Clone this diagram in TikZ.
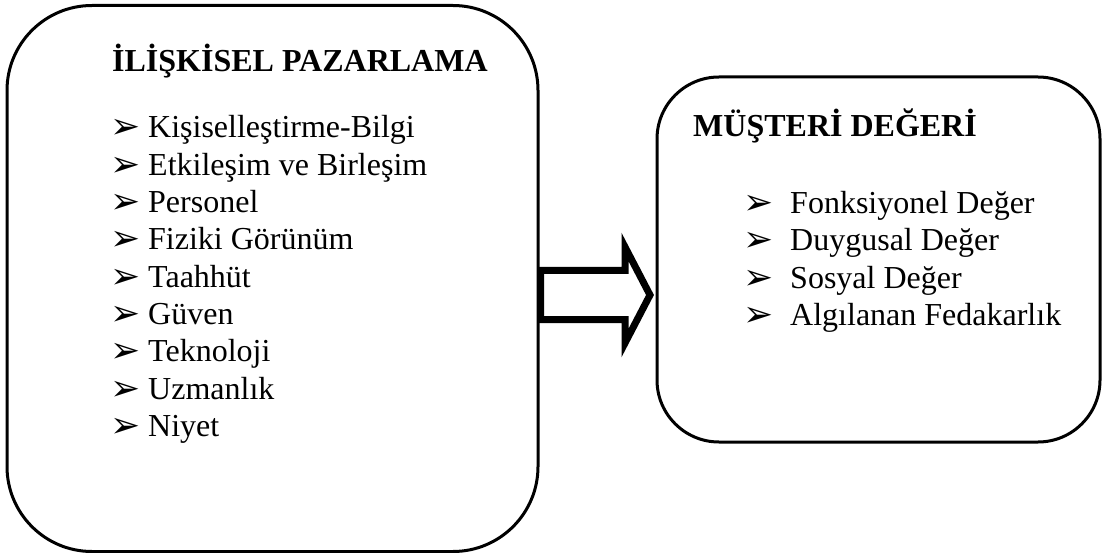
\documentclass[tikz,border=0pt]{standalone}
\usepackage{fontspec}
\setmainfont{Liberation Serif}
\newfontfamily\symfont{DejaVu Sans}
\begin{document}
\begin{tikzpicture}[x=1pt,y=-1pt,
  box/.style={draw=black, line width=3pt, rounded corners=#1, inner sep=0pt},
  txt/.style={anchor=base west, inner sep=0pt, font=\fontsize{32}{37}\selectfont},
  ttl/.style={txt, font=\fontsize{32}{37}\selectfont\bfseries},
  bigarrow/.style={draw=black, line width=7pt, line join=miter, fill=white}
]
\useasboundingbox (0,0) rectangle (1105,553);
\newcommand{\blt}[1]{\makebox[#1][l]{\raisebox{-1pt}{\symfont\fontsize{36}{36}\selectfont ➢}}}
% boxes
\node[box=85pt, minimum width=531pt, minimum height=546pt] (L) at (272.5,278.5) {};
\node[box=62pt, minimum width=443pt, minimum height=365pt] (R) at (878.5,259.5) {};
% arrow
\coordinate (a0) at (540.5,270.5);
\draw[bigarrow] (a0) -- (625,270.5) -- (625,247) -- (650,295) -- (625,343) -- (625,319.5) -- (540.5,319.5) -- cycle;
% left texts
\node[ttl] (lt) at (112,72) {İLİŞKİSEL PAZARLAMA};
\node[txt] (l1) at (110,138) {\blt{38pt}Kişiselleştirme-Bilgi};
\node[txt] (l2) at (110,175.3) {\blt{38pt}Etkileşim ve Birleşim};
\node[txt] (l3) at (110,212.6) {\blt{38pt}Personel};
\node[txt] (l4) at (110,249.9) {\blt{38pt}Fiziki Görünüm};
\node[txt] (l5) at (110,287.2) {\blt{38pt}Taahhüt};
\node[txt] (l6) at (110,324.5) {\blt{38pt}Güven};
\node[txt] (l7) at (110,361.8) {\blt{38pt}Teknoloji};
\node[txt] (l8) at (110,399.1) {\blt{38pt}Uzmanlık};
\node[txt] (l9) at (110,436.4) {\blt{38pt}Niyet};
% right texts
\node[ttl] (rt) at (693,137) {MÜŞTERİ DEĞERİ};
\node[txt] (r1) at (743,214) {\blt{47pt}Fonksiyonel Değer};
\node[txt] (r2) at (743,251) {\blt{47pt}Duygusal Değer};
\node[txt] (r3) at (743,288) {\blt{47pt}Sosyal Değer};
\node[txt] (r4) at (743,325) {\blt{47pt}Algılanan Fedakarlık};
\end{tikzpicture}
\end{document}
